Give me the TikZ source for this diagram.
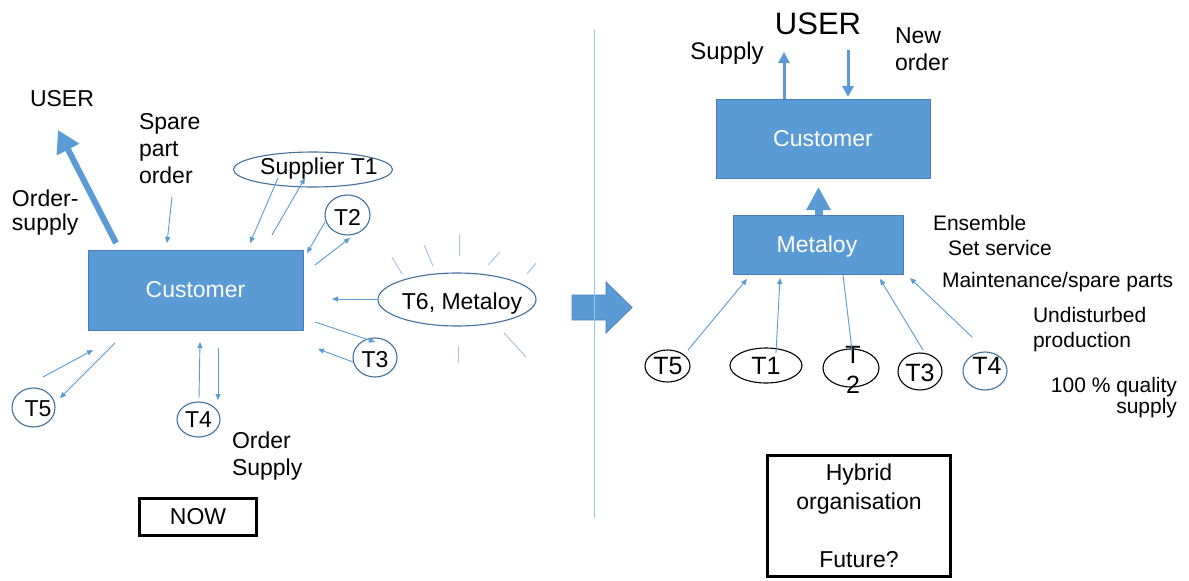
\documentclass[tikz,border=0pt]{standalone}
\usepackage{fontspec}
\setmainfont{Liberation Sans}
\usetikzlibrary{arrows.meta,shapes.geometric}
\definecolor{boxblue}{HTML}{5B9BD5}
\definecolor{boxedge}{HTML}{4A7EBB}
\definecolor{arrblue}{HTML}{5B9BD5}
\definecolor{ringblue}{HTML}{41719C}
\definecolor{rayblue}{HTML}{A9C4DE}
\definecolor{divblue}{HTML}{9DC3E6}
\begin{document}
\begin{tikzpicture}[x=1pt,y=-1pt,
  lbl/.style={inner sep=0pt, outer sep=0pt, text=black, font=\fontsize{23}{27}\selectfont},
  rlbl/.style={inner sep=0pt, outer sep=0pt, text=black, font=\fontsize{21}{25}\selectfont},
  bluebox/.style={draw=boxedge, fill=boxblue, line width=0.8pt, inner sep=0pt, text=white, font=\fontsize{23}{27}\selectfont},
  blackbox/.style={draw=black, line width=3pt, inner sep=0pt, text=black, font=\fontsize{23}{29}\selectfont, align=center},
  ringL/.style={ellipse, draw=ringblue, line width=1.1pt, inner sep=0pt},
  ringK/.style={ellipse, draw=black, line width=1.1pt, inner sep=0pt},
  tarr/.style={draw=arrblue, line width=0.9pt, -{Triangle[length=6pt,width=5pt]}},
  tline/.style={draw=arrblue, line width=0.9pt},
  ray/.style={draw=rayblue, line width=1pt}
]
\useasboundingbox (0,0) rectangle (1189,581);
\fill[white] (0,0) rectangle (1189,581);

% ---------------- LEFT (NOW) ----------------
\node[bluebox, minimum width=215pt, minimum height=80pt] (custL) at (195.5,290) {Customer};

\node[lbl, anchor=north] (userL) at (62,90) {USER};
\node[lbl, anchor=north west, align=left, font=\fontsize{23}{24}\selectfont] (ordsup) at (12,190) {Order-\\supply};
\node[lbl, anchor=north west, align=left] (spare) at (139,113) {Spare\\part\\order};
\node[lbl, anchor=north west, align=left] (ordsup2) at (232,432) {Order\\Supply};

% rings
\node[ringL, minimum width=159pt, minimum height=35pt] (t1L) at (313,169.5) {};
\node[lbl, anchor=north] (t1Lt) at (319,158) {Supplier T1};
\node[ringL, minimum width=45pt, minimum height=40pt] (t2L) at (347.5,215) {};
\node[lbl] (t2Lt) at (347.5,217) {T2};
\node[ringL, minimum width=158pt, minimum height=53pt] (t6) at (457,299.5) {};
\node[lbl, anchor=base] (t6t) at (462,309) {T6, Metaloy};
\node[ringL, minimum width=44pt, minimum height=39pt] (t3L) at (375,357.5) {};
\node[lbl] (t3Lt) at (375,360) {T3};
\node[ringL, minimum width=43pt, minimum height=39pt] (t5L) at (33.5,407.5) {};
\node[lbl] (t5Lt) at (38,408.5) {T5};
\node[ringL, minimum width=43pt, minimum height=35pt] (t4L) at (198.5,419.5) {};
\node[lbl] (t4Lt) at (198.5,420) {T4};

% rays around T6
\foreach \a/\b/\c/\d [count=\i] in {392/257/402/274, 424/245/433/266, 459/234/459/256, 500/252/488/265, 536/263/527/274, 458/346/458/363, 504/333/526/357}{
  \coordinate (rs\i) at (\a,\b);
  \coordinate (re\i) at (\c,\d);
  \draw[ray] (rs\i) -- (re\i);
}

% thick order-supply arrow
\coordinate (osS) at (116,243);
\coordinate (osE) at (58,130);
\draw[draw=arrblue, line width=6pt, -{Triangle[length=22pt,width=24pt]}] (osS) -- (osE);

% thin arrows left
\coordinate (a1s) at (172,197);  \coordinate (a1e) at (167,243);
\coordinate (a2s) at (278,178);  \coordinate (a2e) at (250,243);
\coordinate (a3s) at (272,235);  \coordinate (a3e) at (305,178);
\coordinate (a4s) at (325,222);  \coordinate (a4e) at (307,253);
\coordinate (a5s) at (315,265);  \coordinate (a5e) at (350,238);
\coordinate (a6s) at (378,299);  \coordinate (a6e) at (332,299);
\coordinate (a7s) at (315,322);  \coordinate (a7e) at (375,342);
\coordinate (a8s) at (353,362);  \coordinate (a8e) at (318,349);
\coordinate (a9s) at (43,377);   \coordinate (a9e) at (93,350);
\coordinate (a10s) at (115,343); \coordinate (a10e) at (60,398);
\coordinate (a11s) at (199,398); \coordinate (a11e) at (200,342);
\coordinate (a12s) at (218,348); \coordinate (a12e) at (218,400);
\foreach \i in {1,...,12}{\draw[tarr] (a\i s) -- (a\i e);}

% NOW box
\node[blackbox, minimum width=117pt, minimum height=37pt] (now) at (198,517) {NOW};

% ---------------- MIDDLE ----------------
\fill[boxblue, draw=boxedge, line width=0.8pt] (572,295) -- (606,295) -- (606,282) -- (632,307.5) -- (606,333) -- (606,320) -- (572,320) -- cycle;
\coordinate (divT) at (594.5,30);
\coordinate (divB) at (594.5,518);
\draw[draw=divblue, line width=1pt] (divT) -- (divB);

% ---------------- RIGHT (FUTURE) ----------------
\node[bluebox, minimum width=214pt, minimum height=79pt] (custR) at (823,138.5) {Customer};
\node[bluebox, minimum width=170pt, minimum height=59pt] (met) at (818,244.5) {};
\node[lbl, anchor=base, text=white] (mett) at (817,252) {Metaloy};

\node[lbl, anchor=north, font=\fontsize{31}{35}\selectfont] (userR) at (818,13) {USER};
\node[lbl, anchor=north, font=\fontsize{24}{28}\selectfont] (supR) at (727,42) {Supply};
\node[lbl, anchor=north west, align=left] (neword) at (895,28) {New\\order};

\coordinate (supS) at (784,99);  \coordinate (supE) at (784,52);
\coordinate (noS) at (848,50);   \coordinate (noE) at (848,97);
\draw[draw=arrblue, line width=3pt, -{Triangle[length=11pt,width=11pt]}] (supS) -- (supE);
\draw[draw=arrblue, line width=3pt, -{Triangle[length=11pt,width=11pt]}] (noS) -- (noE);
\coordinate (mcS) at (818.5,215); \coordinate (mcE) at (818.5,187);
\draw[draw=arrblue, line width=8pt, -{Triangle[length=23pt,width=23pt]}] (mcS) -- (mcE);

\node[rlbl, anchor=north west] (ens) at (933,215) {Ensemble};
\node[rlbl, anchor=north west] (setsv) at (948,240) {Set service};
\node[rlbl, anchor=north west] (maint) at (942,272) {Maintenance/spare parts};
\node[rlbl, anchor=north west, align=left] (undist) at (1033,307) {Undisturbed\\production};
\node[rlbl, anchor=north east, align=right, font=\fontsize{21}{21}\selectfont] (qual) at (1177,377) {100 \% quality\\supply};

% bottom rings
\node[ringK, minimum width=45pt, minimum height=32pt] (t5R) at (667.5,366) {};
\node[lbl, font=\fontsize{25}{28}\selectfont] (t5Rt) at (668,366) {T5};
\node[ringK, minimum width=72pt, minimum height=35pt] (t1R) at (766,365.5) {};
\node[lbl, font=\fontsize{25}{28}\selectfont] (t1Rt) at (766,366) {T1};
\node[ringK, minimum width=56pt, minimum height=38pt] (t2R) at (851,368) {};
\node[lbl, align=center, font=\fontsize{25}{30}\selectfont] (t2Rt) at (853,370) {T\\2};
\node[ringK, minimum width=44pt, minimum height=37pt] (t3R) at (920,371.5) {};
\node[lbl, font=\fontsize{25}{28}\selectfont] (t3Rt) at (920,373) {T3};
\node[ringL, minimum width=44pt, minimum height=38pt] (t4R) at (985,371) {};
\node[lbl, font=\fontsize{25}{28}\selectfont] (t4Rt) at (987,366) {T4};

\coordinate (b1s) at (688,350); \coordinate (b1e) at (747,279);
\coordinate (b2s) at (776,353); \coordinate (b2e) at (780,278);
\coordinate (b3s) at (923,350); \coordinate (b3e) at (880,279);
\coordinate (b4s) at (972,337); \coordinate (b4e) at (910,278);
\foreach \i in {1,...,4}{\draw[tarr] (b\i s) -- (b\i e);}
\coordinate (b5s) at (843,275); \coordinate (b5e) at (852,350);
\draw[tline] (b5s) -- (b5e);

% Hybrid box
\node[blackbox, minimum width=183pt, minimum height=121pt] (hyb) at (859,516) {Hybrid\\organisation\\[29pt]Future?};

\end{tikzpicture}
\end{document}
